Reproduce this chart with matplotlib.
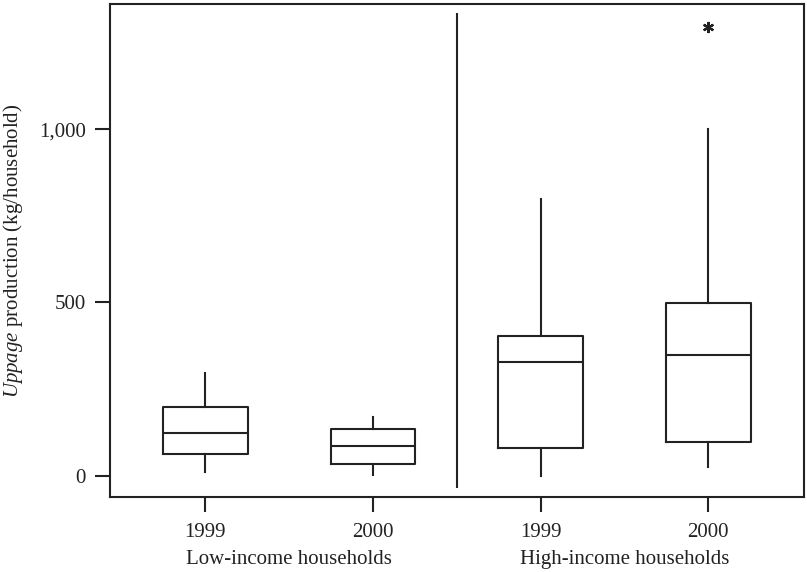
import matplotlib
matplotlib.use("Agg")
import matplotlib.pyplot as plt

plt.rcParams['font.family'] = ['Liberation Serif', 'DejaVu Serif']
plt.rcParams['mathtext.fontset'] = 'custom'
plt.rcParams['mathtext.rm'] = 'Liberation Serif'
plt.rcParams['mathtext.it'] = 'Liberation Serif:italic'

# Data (kg/household)
years = ["1999", "2000", "1999", "2000"]
groups = ["Low-income households", "High-income households"]
whislo = [12, 2, 0, 26]
q1 = [64, 35, 81, 97]
med = [124, 86, 329, 348]
q3 = [199, 134, 404, 499]
whishi = [296, 170, 798, 1000]
outliers = [[], [], [], [1296]]
yticks = [0, 500, 1000]
ytick_labels = ["0", "500", "1,000"]

col = "#222222"
lw = 1.5

fig = plt.figure(figsize=(8.07, 5.72), dpi=100)
ax = fig.add_axes([110/807, 1-497/572, 694/807, 493/572])

stats = []
for i in range(4):
    stats.append(dict(whislo=whislo[i], q1=q1[i], med=med[i], q3=q3[i],
                      whishi=whishi[i], fliers=outliers[i], label=years[i]))

positions = [1, 2, 3, 4]
ax.bxp(stats, positions=positions, widths=0.505, showcaps=False,
       boxprops=dict(color=col, linewidth=lw),
       whiskerprops=dict(color=col, linewidth=lw),
       medianprops=dict(color=col, linewidth=lw),
       flierprops=dict(marker=(6, 2, 0), markersize=8, markeredgecolor=col,
                       markeredgewidth=1.6, markerfacecolor=col))

ax.vlines(2.5, -36, 1335, color=col, linewidth=lw)

ax.set_xlim(0.432, 4.571)
ax.set_ylim(-61.5, 1361.7)
ax.set_yticks(yticks)
ax.set_yticklabels(ytick_labels)
ax.set_xticks(positions)
ax.set_xticklabels(years)
ax.tick_params(axis='both', direction='out', length=10.5, width=lw, color=col,
               labelsize=15, labelcolor='#222222', pad=7)
ax.tick_params(axis='x', pad=8)
for s in ax.spines.values():
    s.set_linewidth(lw)
    s.set_color(col)

ax.set_ylabel(r'$\mathit{Uppage}$ production (kg/household)', fontsize=15,
              color='#222222', labelpad=10)

for gi, g in enumerate(groups):
    xc = (positions[2*gi] + positions[2*gi+1]) / 2
    ax.text(xc, -0.126, g, transform=ax.get_xaxis_transform(), ha='center',
            va='center', fontsize=15, color='#222222')

fig.savefig("out.png", dpi=100)
